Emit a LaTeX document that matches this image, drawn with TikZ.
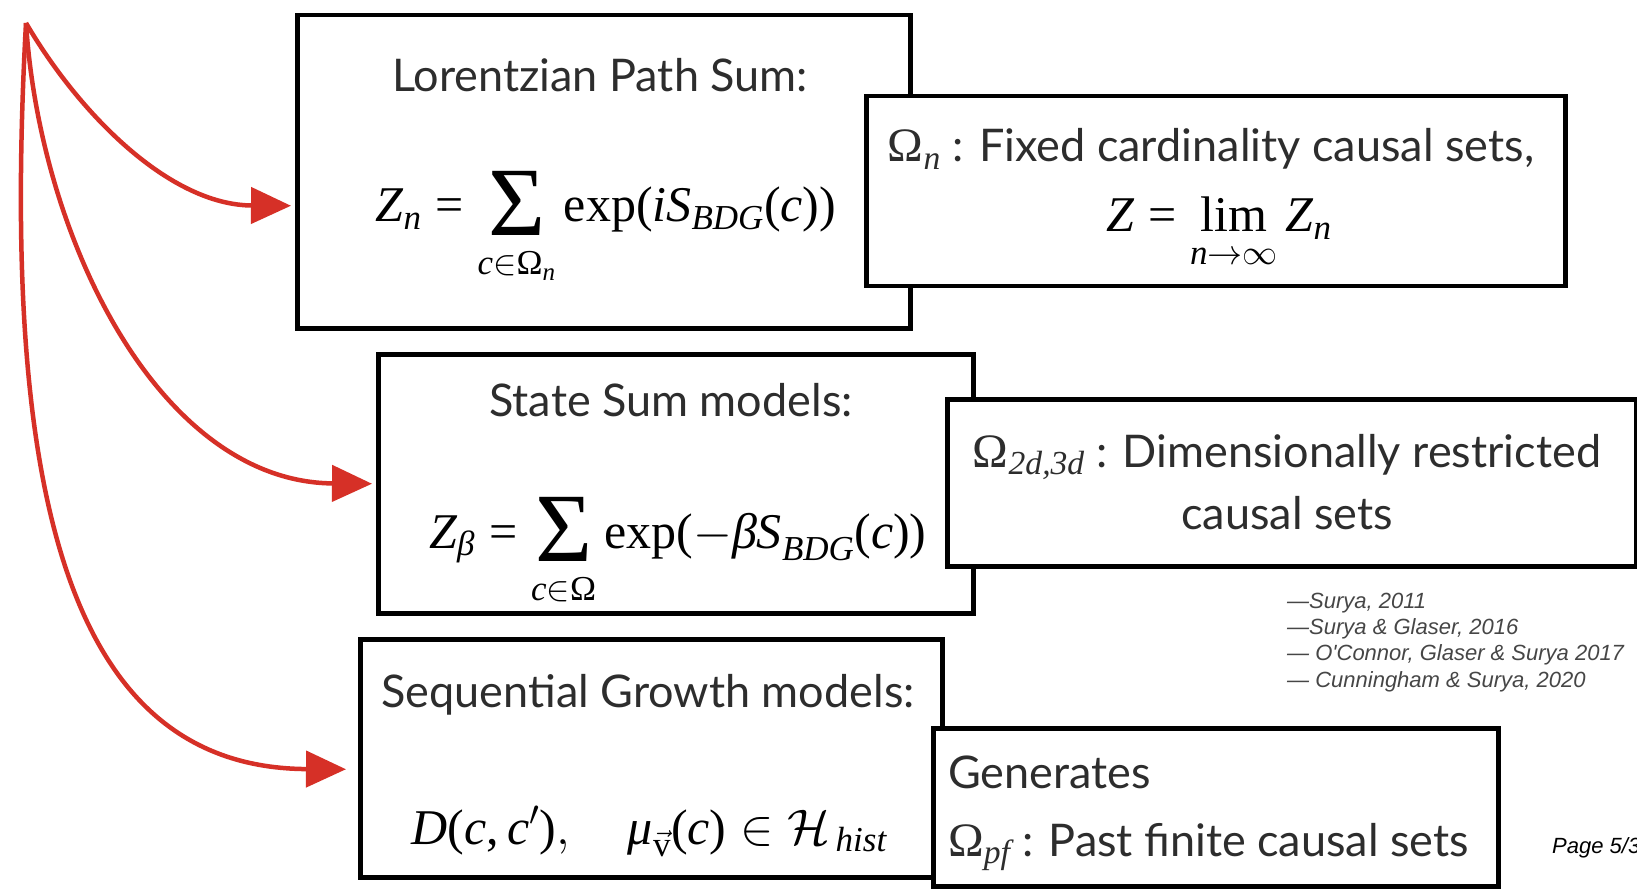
\RequirePackage{fix-cm}
\documentclass[tikz,border=0pt]{standalone}
\usepackage{amsmath}
\usepackage[no-math]{fontspec}
\setmainfont{Lato}
\newfontfamily\reffont{Liberation Sans}
\newfontfamily\tms{Liberation Serif}
\usetikzlibrary{arrows.meta,calc}
\definecolor{arrowred}{RGB}{214,48,39}
\definecolor{txt}{RGB}{45,45,45}
\definecolor{reftxt}{RGB}{70,70,70}
\newcommand{\tv}[1]{\text{\tms\itshape #1}}
\newcommand{\tu}[1]{\text{\tms\upshape #1}}
\newcommand{\eqrel}{\mathrel{\tu{=}}}
\newcommand{\bigsig}{\mathop{\vcenter{\hbox{\fontsize{98}{98}\tms Σ\rule[-12pt]{0pt}{1pt}}}}\limits}
\newcommand{\mth}[1]{{\fontsize{48}{54}\selectfont$#1$}}
\tikzset{
 box/.style={draw=black, line width=4.5pt, fill=white, inner sep=0pt, anchor=north west},
 lbl/.style={text=txt, font=\fontsize{45}{54}\selectfont, inner sep=0pt, anchor=base},
 lbll/.style={lbl, anchor=base west},
 eq/.style={text=black, font=\fontsize{50}{60}\selectfont, inner sep=0pt, anchor=base},
 reftext/.style={text=reftxt, font=\reffont\itshape\fontsize{22}{26}\selectfont, anchor=base west, inner sep=0pt},
 redarrow/.style={draw=arrowred, line width=4.5pt, -{Triangle[length=40pt,width=36pt]}},
}
\begin{document}
\begin{tikzpicture}[x=1pt,y=-1pt]
\path[use as bounding box, fill=white] (0,0) rectangle (1637,890);

% boxes
\node[box, minimum width=613pt, minimum height=313pt] (b1) at (295,13) {};
\node[box, minimum width=699pt, minimum height=190pt] (b2) at (864,94) {};
\node[box, minimum width=595pt, minimum height=259pt] (b3) at (376,352) {};
\node[box, minimum width=689pt, minimum height=167pt] (b4) at (945,397) {};
\node[box, minimum width=582pt, minimum height=238pt] (b5) at (358,637) {};
\node[box, minimum width=565pt, minimum height=158pt] (b6) at (931,726) {};

% texts
\node[lbl] (t1) at (600,92) {Lorentzian Path Sum:};
\node[eq] (f1) at (606,222) {$\displaystyle \tv{Z}_{\tv{n}} \eqrel \bigsig_{\tv{c}\in\tu{Ω}_{\tv{n}}}\tu{exp(}\tv{iS}_{\tv{BDG}}\tu{(}\tv{c}\tu{))}$};

\node[lbl] (t2) at (1211,162) {\mth{\tu{Ω}_{\tv{n}}} : Fixed cardinality causal sets,};
\node[eq] (f2) at (1219,232) {$\displaystyle \tv{Z} \eqrel \mathop{\tu{lim}\rule[-12pt]{0pt}{1pt}}\limits_{\tv{n}\to\infty} \tv{Z}_{\tv{n}}$};

\node[lbl] (t3) at (671,416) {State Sum models:};
\node[eq] (f3) at (678,548) {$\displaystyle \tv{Z}_{\tv{β}} \eqrel \bigsig_{\tv{c}\in\tu{Ω}}\tu{exp(}{-}\tv{βS}_{\tv{BDG}}\tu{(}\tv{c}\tu{))}$};

\node[lbl] (t4) at (1287,467) {\mth{\tu{Ω}_{\tv{2d,3d}}} : Dimensionally restricted};
\node[lbl] (t4b) at (1287,529) {causal sets};

\node[lbl] (t5) at (648,707) {Sequential Growth models:};
\node[eq] (f5) at (649,844) {$\tv{D}\tu{(}\tv{c}\tu{,\,}\tv{c}'\tu{)},\quad \tv{μ}_{\vec{\tu{v}}}\tu{(}\tv{c}\tu{)}\in\mathcal{H}_{\,\tv{hist}}$};

\node[lbll] (t6) at (948,788) {Generates};
\node[lbll] (t6b) at (948,856) {\mth{\tu{Ω}_{\tv{pf}}} : Past finite causal sets};

% references
\node[reftext] (r1) at (1287,608) {\textemdash Surya, 2011};
\node[reftext] (r2) at (1287,634) {\textemdash Surya \& Glaser, 2016};
\node[reftext] (r3) at (1287,660) {\textemdash\ O'Connor, Glaser \& Surya 2017};
\node[reftext] (r4) at (1287,687) {\textemdash\ Cunningham \& Surya, 2020};
\node[reftext, text=black] (pg) at (1552,853) {Page 5/3};

% arrows
\coordinate (o) at (26,23);
\coordinate (e1) at ($(b1.west)+(-4,34)$);
\coordinate (e2) at ($(b3.west)+(-4,0)$);
\coordinate (e3) at ($(b5.west)+(-12,11)$);
\draw[redarrow] (o) .. controls (80,115) and (170,205) .. (e1);
\draw[redarrow] (o) .. controls (40,240) and (160,482) .. (e2);
\draw[redarrow] (o) .. controls (0,500) and (70,768) .. (e3);
\end{tikzpicture}
\end{document}
